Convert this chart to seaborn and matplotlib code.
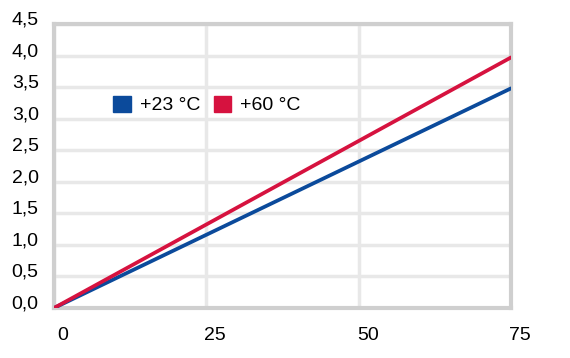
import numpy as np
import pandas as pd
import matplotlib
matplotlib.use("Agg")
import matplotlib.pyplot as plt
import matplotlib.transforms as mtransforms
import seaborn as sns

# data
x_vals = [0, 75]
y_23 = [0.0, 3.48]
y_60 = [0.0, 3.97]
series_names = ["+23 °C", "+60 °C"]
colors = ["#0b4a9b", "#d6123f"]
x_ticks = [0, 25, 50, 75]
y_ticks = [0.0, 0.5, 1.0, 1.5, 2.0, 2.5, 3.0, 3.5, 4.0, 4.5]

df = pd.DataFrame({
    "x": x_vals + x_vals,
    "y": y_23 + y_60,
    "series": [series_names[0]] * len(x_vals) + [series_names[1]] * len(x_vals),
})

sns.set_style("white")
plt.rcParams["font.family"] = ["Liberation Sans", "DejaVu Sans"]

fig = plt.figure(figsize=(5.7, 3.58), dpi=100)
ax = fig.add_axes([54 / 570, 50 / 358, 457 / 570, 284 / 358])

sns.lineplot(data=df, x="x", y="y", hue="series", palette=colors,
             linewidth=2.7, ax=ax, legend=False, zorder=3)

ax.set_xlim(0, 75)
ax.set_ylim(0, 4.5)
ax.set_xticks(x_ticks)
ax.set_yticks(y_ticks)
ax.set_xticklabels([str(t) for t in x_ticks])
ax.set_yticklabels([f"{t:.1f}".replace(".", ",") for t in y_ticks])
ax.set_xlabel("")
ax.set_ylabel("")

ax.grid(True, color="#e8e8e8", linewidth=2.5, zorder=0)
ax.set_axisbelow(True)
for s in ax.spines.values():
    s.set_color("#cfcfcf")
    s.set_linewidth(3)

ax.tick_params(axis="both", length=0, labelsize=14, colors="#000000")
ax.tick_params(axis="x", pad=14)
ax.tick_params(axis="y", pad=11)

# labels sit a bit off their gridlines in the original
off_x = mtransforms.ScaledTranslation(9 / 100, 0, fig.dpi_scale_trans)
for lab in ax.get_xticklabels():
    lab.set_transform(lab.get_transform() + off_x)
off_y = mtransforms.ScaledTranslation(0, 6 / 100, fig.dpi_scale_trans)
for lab in ax.get_yticklabels():
    lab.set_transform(lab.get_transform() + off_y)

handles = [plt.Rectangle((0, 0), 1, 1, color=c) for c in colors]
leg = ax.legend(handles, series_names, loc="center left", bbox_to_anchor=(0.13, 0.715),
                ncol=2, frameon=False, fontsize=14, handlelength=0.9, handleheight=0.9,
                handletextpad=0.45, columnspacing=0.7, borderaxespad=0, borderpad=0)
for t in leg.get_texts():
    t.set_color("#000000")

fig.savefig("out.png", dpi=100)
